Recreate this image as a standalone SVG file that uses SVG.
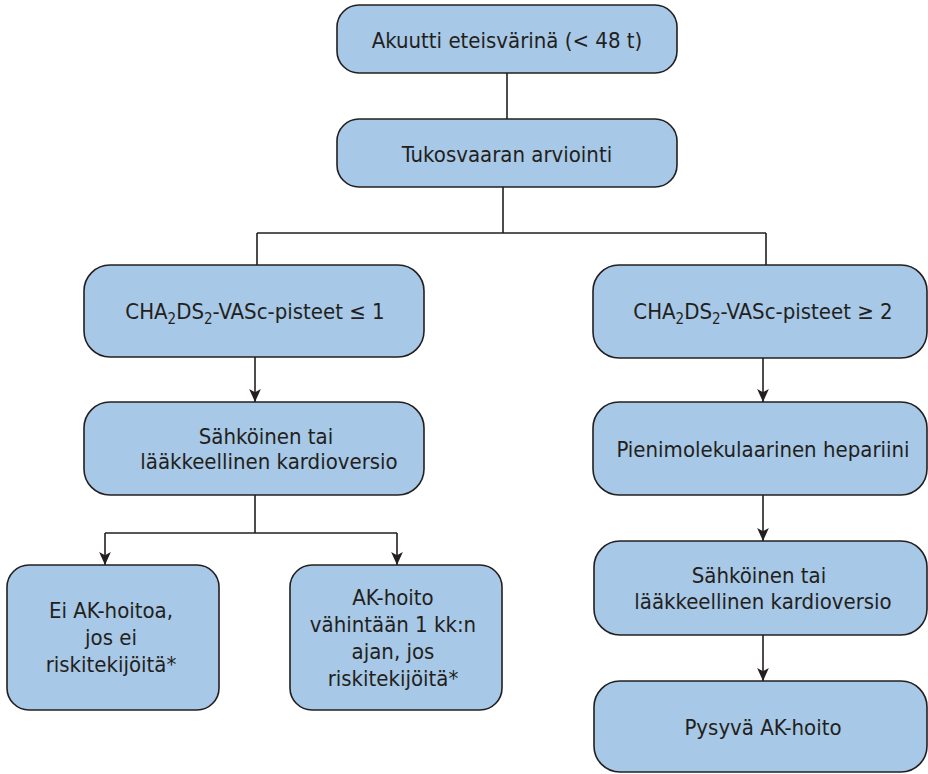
<svg xmlns="http://www.w3.org/2000/svg" width="928" height="774" viewBox="0 0 928 774">
<defs>
<style>
.box{fill:#a7c8e6;stroke:#231f20;stroke-width:1.6}
.t{font-family:"DejaVu Sans Condensed","DejaVu Sans",sans-serif;font-size:22px;fill:#231f20;text-anchor:middle}
.c{fill:none;stroke:#231f20;stroke-width:1.6}
</style>
<marker id="ah" viewBox="0 0 10 10" refX="10" refY="5" markerWidth="13" markerHeight="13" markerUnits="userSpaceOnUse" orient="auto">
<path d="M0,0.5 L10,5 L0,9.5 L2.5,5 Z" fill="#231f20"/>
</marker>
</defs>
<rect width="928" height="774" fill="#fff"/>
<g id="connectors">
<path class="c" d="M507,73 V119"/>
<path class="c" d="M503,187 V233 M257,233 H766 M257,233 V265 M766,233 V265"/>
<path class="c" d="M255,357 V402" marker-end="url(#ah)"/>
<path class="c" d="M763,358 V402" marker-end="url(#ah)"/>
<path class="c" d="M255,495 V533 M105,533 H397"/>
<path class="c" d="M105,533 V565" marker-end="url(#ah)"/>
<path class="c" d="M397,533 V565" marker-end="url(#ah)"/>
<path class="c" d="M763,495 V541" marker-end="url(#ah)"/>
<path class="c" d="M763,635 V681" marker-end="url(#ah)"/>
</g>
<g id="n1"><rect class="box" x="337" y="5" width="340" height="68" rx="22"/><text class="t" x="507" y="48">Akuutti eteisvärinä (&lt; 48 t)</text></g>
<g id="n2"><rect class="box" x="337" y="119" width="340" height="68" rx="22"/><text class="t" x="507" y="162">Tukosvaaran arviointi</text></g>
<g id="n3"><rect class="box" x="84" y="265" width="340" height="92" rx="26"/><text class="t" x="255" y="319">CHA<tspan font-size="15" dy="5">2</tspan><tspan dy="-5">DS</tspan><tspan font-size="15" dy="5">2</tspan><tspan dy="-5">-VASc-pisteet ≤ 1</tspan></text></g>
<g id="n4"><rect class="box" x="593" y="265" width="334" height="93" rx="26"/><text class="t" x="763" y="319">CHA<tspan font-size="15" dy="5">2</tspan><tspan dy="-5">DS</tspan><tspan font-size="15" dy="5">2</tspan><tspan dy="-5">-VASc-pisteet ≥ 2</tspan></text></g>
<g id="n5"><rect class="box" x="84" y="402" width="340" height="93" rx="26"/><text class="t" x="266" y="444">Sähköinen tai</text><text class="t" x="269" y="469">lääkkeellinen kardioversio</text></g>
<g id="n6"><rect class="box" x="593" y="402" width="334" height="93" rx="26"/><text class="t" x="763" y="457">Pienimolekulaarinen hepariini</text></g>
<g id="n7"><rect class="box" x="7" y="565" width="212" height="145" rx="22"/><text class="t" x="111" y="618">Ei AK-hoitoa,</text><text class="t" x="111" y="645">jos ei</text><text class="t" x="111" y="672">riskitekijöitä*</text></g>
<g id="n8"><rect class="box" x="290" y="565" width="212" height="145" rx="22"/><text class="t" x="393" y="605">AK-hoito</text><text class="t" x="393" y="632">vähintään 1 kk:n</text><text class="t" x="393" y="659">ajan, jos</text><text class="t" x="393" y="686">riskitekijöitä*</text></g>
<g id="n9"><rect class="box" x="594" y="541" width="333" height="94" rx="26"/><text class="t" x="759" y="583">Sähköinen tai</text><text class="t" x="763" y="609">lääkkeellinen kardioversio</text></g>
<g id="n10"><rect class="box" x="594" y="681" width="333" height="91" rx="26"/><text class="t" x="763" y="735">Pysyvä AK-hoito</text></g>
</svg>
